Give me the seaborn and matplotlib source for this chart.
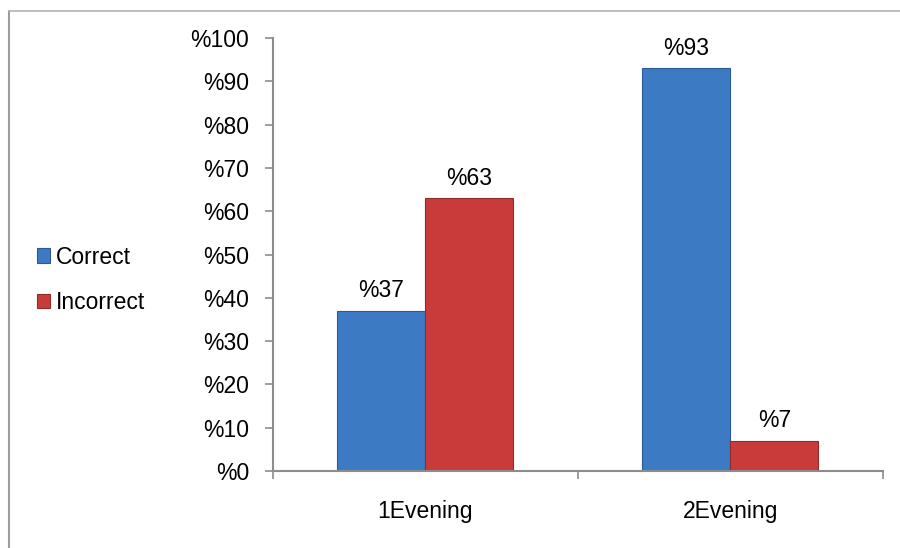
import matplotlib
matplotlib.use("Agg")
import matplotlib.pyplot as plt
import seaborn as sns
import pandas as pd
from matplotlib.lines import Line2D

# data
evenings = ["1Evening", "2Evening"]
correct = [37, 93]
incorrect = [63, 7]
series = ["Correct", "Incorrect"]
y_ticks = [0, 10, 20, 30, 40, 50, 60, 70, 80, 90, 100]

df = pd.DataFrame({
    "evening": evenings * 2,
    "answer": [series[0]] * len(evenings) + [series[1]] * len(evenings),
    "pct": correct + incorrect,
})

sns.set_style("white")
plt.rcParams["font.family"] = ["Liberation Sans", "DejaVu Sans"]
plt.rcParams["text.color"] = "black"
plt.rcParams["xtick.labelcolor"] = "black"
plt.rcParams["ytick.labelcolor"] = "black"

FS = 16.5
palette = {"Correct": "#3D7AC4", "Incorrect": "#C93B3B"}
edges = {"Correct": "#2B5A96", "Incorrect": "#8F2B2B"}

fig = plt.figure(figsize=(9, 5.48), dpi=100)
ax = fig.add_axes([0.3033, 0.1405, 0.6778, 0.790])

sns.barplot(data=df, x="evening", y="pct", hue="answer", hue_order=series,
            palette=palette, width=0.577, saturation=1, ax=ax)

for cont, name in zip(ax.containers, series):
    for bar in cont:
        bar.set_edgecolor(edges[name])
        bar.set_linewidth(0.8)
    ax.bar_label(cont, fmt=lambda v: f"%{v:.0f}", padding=6, fontsize=FS,
                 color="black")

ax.set_xlim(-0.5, len(evenings) - 0.5)
ax.set_ylim(0, 100)
ax.set_yticks(y_ticks)
ax.set_yticklabels([f"%{t}" for t in y_ticks], fontsize=FS)
ax.tick_params(axis="y", direction="out", length=6, width=1.2,
               color="#8C8C8C", pad=11, left=True)

ax.set_xticks(range(len(evenings)))
ax.set_xticklabels(evenings, fontsize=FS)
ax.set_xticks([i - 0.5 for i in range(len(evenings) + 1)], minor=True)
ax.tick_params(axis="x", which="major", length=0, pad=21)
ax.tick_params(axis="x", which="minor", direction="out", length=6,
               width=1.2, color="#8C8C8C", bottom=True)

ax.set_xlabel("")
ax.set_ylabel("")
for side in ["top", "right"]:
    ax.spines[side].set_visible(False)
for side in ["left", "bottom"]:
    ax.spines[side].set_color("#8C8C8C")
    ax.spines[side].set_linewidth(1.5)

# legend on the left
handles = [plt.Rectangle((0, 0), 1, 1, facecolor=palette[s], edgecolor=edges[s],
                         linewidth=0.8) for s in series]
ax.legend(handles, series, loc="center left", bbox_to_anchor=(0.028, 0.489),
          bbox_transform=fig.transFigure, frameon=False, borderpad=0,
          handlelength=0.6, handleheight=0.6, handletextpad=0.25,
          labelspacing=0.98, prop={"size": FS})

# outer chart border (left and top only visible)
fig.add_artist(Line2D([0.01, 0.01], [0.0, 0.98], transform=fig.transFigure,
                      color="#9C9C9C", linewidth=1.5))
fig.add_artist(Line2D([0.01, 1.0], [0.98, 0.98], transform=fig.transFigure,
                      color="#B4B4B4", linewidth=1.2))

fig.savefig("out.png", dpi=100)
